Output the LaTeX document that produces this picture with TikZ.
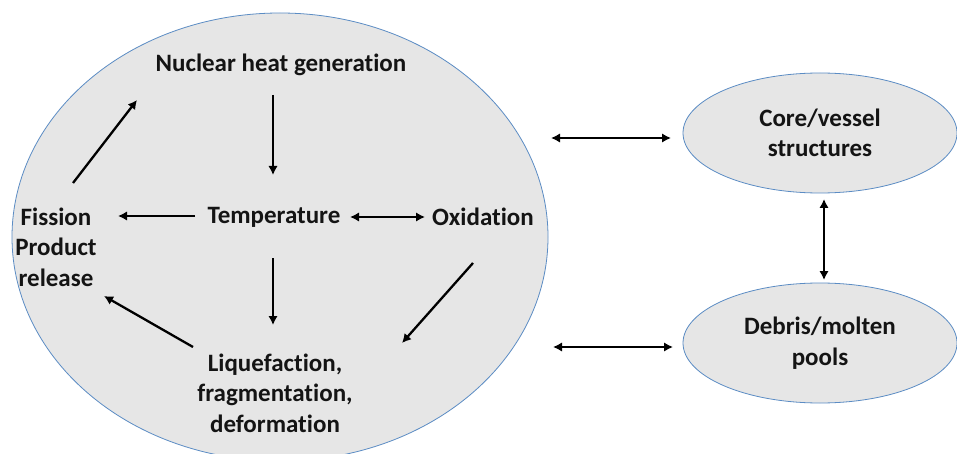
\documentclass[tikz,border=0pt]{standalone}
\usepackage{fontspec}
\setmainfont[Ligatures={NoCommon}]{Carlito}
\usetikzlibrary{arrows.meta,shapes.geometric}
\definecolor{bubble}{HTML}{E6E6E6}
\definecolor{rim}{HTML}{5B8CC4}
\tikzset{
  label text/.style={font=\bfseries\fontsize{25}{30.5}\selectfont, align=center, inner sep=0pt, text=black!92},
  bubble/.style={ellipse, draw=rim, line width=0.8pt, fill=bubble, inner sep=0pt},
  tip/.tip={Latex[length=9pt,width=9.5pt]},
  flow/.style={line width=2.3pt, -tip},
  twoway/.style={line width=2.3pt, tip-tip}
}
\begin{document}
\begin{tikzpicture}[x=1pt,y=-1pt]
\useasboundingbox (0,0) rectangle (957,454);
\clip (0,0) rectangle (957,454);
\fill[white] (0,0) rectangle (957,454);

% the three regions
\node[bubble, minimum width=536, minimum height=448] (main) at (280,237) {};
\node[bubble, minimum width=274, minimum height=120, label text] (cv) at (820,133) {Core/vessel\\structures};
\node[bubble, minimum width=274, minimum height=120, label text] (deb) at (820,343) {Debris/molten\\pools};

% processes inside the core region
\node[label text] (nuc) at (281,65) {Nuclear heat generation};
\node[label text] (temp) at (274,217) {Temperature};
\node[label text] (oxi) at (483,217) {Oxidation};
\node[label text] (fis) at (56,247) {Fission\\Product\\release};
\node[label text] (liq) at (275,393) {Liquefaction,\\fragmentation,\\deformation};

% couplings inside the core region
\draw[flow] ([shift={(-8,30)}]nuc.center) -- ([shift={(-1,-42)}]temp.center);
\draw[flow] ([shift={(-1,41)}]temp.center) -- ([shift={(-2,-68)}]liq.center);
\draw[flow] ([shift={(-79,-1)}]temp.center) -- ([shift={(62,-31)}]fis.center);
\draw[twoway] ([shift={(76,0)}]temp.center) -- ([shift={(-58,0)}]oxi.center);
\draw[flow] ([shift={(17,-64)}]fis.center) -- ([shift={(-144,35)}]nuc.center);
\draw[flow] ([shift={(-82,-46)}]liq.center) -- ([shift={(48,49)}]fis.center);
\draw[flow] ([shift={(-10,46)}]oxi.center) -- ([shift={(127,-50)}]liq.center);

% exchanges between regions
\draw[twoway] ([shift={(271,-99)}]main.center) -- ([shift={(-149,5)}]cv.center);
\draw[twoway] ([shift={(273,110)}]main.center) -- ([shift={(-147,4)}]deb.center);
\draw[twoway] ([shift={(4,66)}]cv.center) -- ([shift={(4,-63)}]deb.center);
\end{tikzpicture}
\end{document}
